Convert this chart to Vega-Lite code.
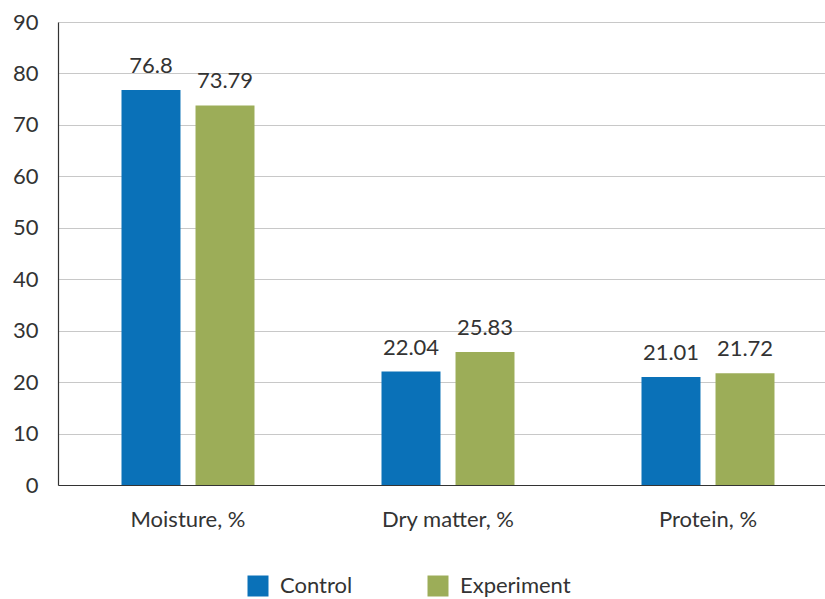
{
  "$schema": "https://vega.github.io/schema/vega-lite/v6.json",
  "width": 780,
  "height": 463,
  "autosize": {"type": "none"},
  "padding": {"left": 58, "top": 22, "right": 0, "bottom": 114},
  "background": "white",
  "data": {
    "values": [
      {"category": "Moisture, %", "group": "Control", "value": 76.8, "label": "76.8"},
      {"category": "Moisture, %", "group": "Experiment", "value": 73.79, "label": "73.79"},
      {"category": "Dry matter, %", "group": "Control", "value": 22.04, "label": "22.04"},
      {"category": "Dry matter, %", "group": "Experiment", "value": 25.83, "label": "25.83"},
      {"category": "Protein, %", "group": "Control", "value": 21.01, "label": "21.01"},
      {"category": "Protein, %", "group": "Experiment", "value": 21.72, "label": "21.72"}
    ]
  },
  "encoding": {
    "x": {
      "field": "category",
      "type": "nominal",
      "sort": ["Moisture, %", "Dry matter, %", "Protein, %"],
      "scale": {"paddingInner": 0, "paddingOuter": 0},
      "axis": {
        "title": null,
        "labelAngle": 0,
        "ticks": false,
        "labelPadding": 24,
        "labelFontSize": 22,
        "labelFont": "Lato",
        "labelColor": "#333333",
        "domainColor": "#333333",
        "domainWidth": 1.2
      }
    },
    "xOffset": {
      "field": "group",
      "type": "nominal",
      "scale": {"paddingInner": 0.203, "paddingOuter": 0.858}
    },
    "y": {
      "field": "value",
      "type": "quantitative",
      "scale": {"domain": [0, 90], "nice": false},
      "axis": {
        "title": null,
        "values": [0, 10, 20, 30, 40, 50, 60, 70, 80, 90],
        "ticks": false,
        "labelPadding": 20,
        "labelFontSize": 22,
        "labelFont": "Lato",
        "labelColor": "#333333",
        "domainColor": "#333333",
        "domainWidth": 1.2,
        "grid": true,
        "gridColor": "#C8C8C8",
        "gridWidth": 1
      }
    }
  },
  "layer": [
    {
      "mark": {"type": "bar"},
      "encoding": {
        "color": {
          "field": "group",
          "type": "nominal",
          "scale": {"domain": ["Control", "Experiment"], "range": ["#0A71B8", "#9CAD58"]},
          "legend": {
            "title": null,
            "orient": "none",
            "direction": "horizontal",
            "legendX": 189,
            "legendY": 553,
            "symbolType": "square",
            "symbolSize": 441,
            "symbolStrokeWidth": 0,
            "labelFontSize": 22,
            "labelFont": "Lato",
            "labelColor": "#333333",
            "labelOffset": 11,
            "columnPadding": 74
          }
        }
      }
    },
    {
      "mark": {"type": "text", "baseline": "alphabetic", "dy": -17, "fontSize": 22, "font": "Lato", "color": "#333333"},
      "encoding": {
        "text": {"field": "label"}
      }
    }
  ],
  "config": {"view": {"stroke": null}}
}
